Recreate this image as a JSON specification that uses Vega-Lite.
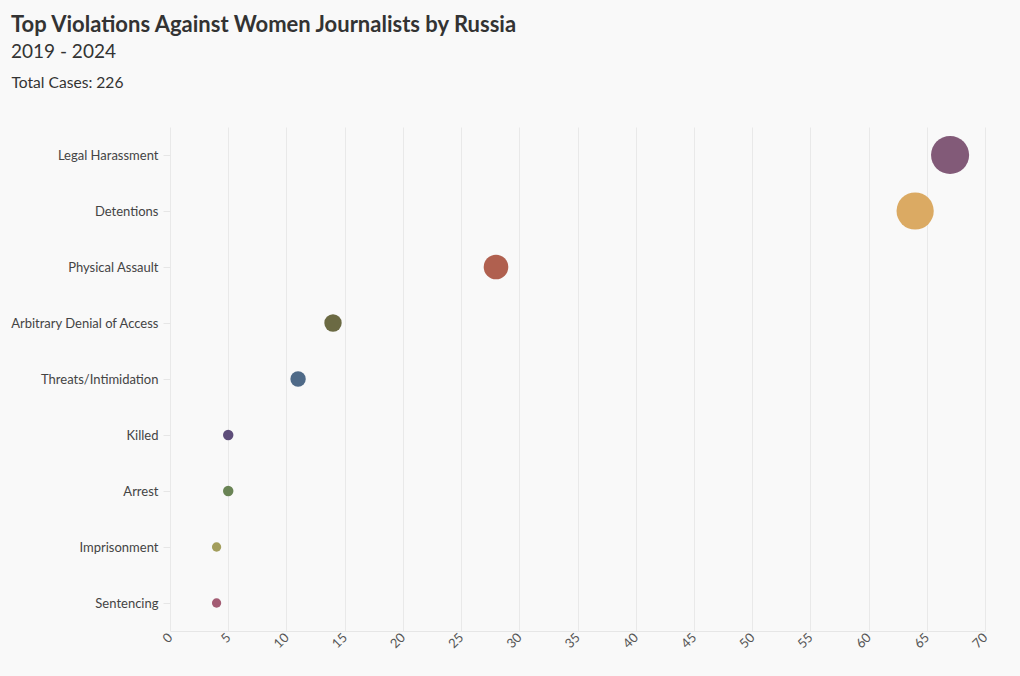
{
  "$schema": "https://vega.github.io/schema/vega-lite/v6.json",
  "autosize": {"type": "none"},
  "width": 815,
  "height": 504,
  "padding": {"left": 170, "top": 127, "right": 35, "bottom": 45},
  "background": "#f9f9f9",
  "title": {
    "text": "Top Violations Against Women Journalists by Russia",
    "subtitle": "2019 - 2024",
    "anchor": "start",
    "frame": "group",
    "dx": -159,
    "offset": 12,
    "font": "Lato",
    "fontSize": 22,
    "fontWeight": "bold",
    "color": "#333333",
    "subtitleFont": "Lato",
    "subtitleFontSize": 19,
    "subtitleColor": "#333333",
    "subtitlePadding": 6
  },
  "data": {
    "values": [
      {"violation": "Legal Harassment", "cases": 67},
      {"violation": "Detentions", "cases": 64},
      {"violation": "Physical Assault", "cases": 28},
      {"violation": "Arbitrary Denial of Access", "cases": 14},
      {"violation": "Threats/Intimidation", "cases": 11},
      {"violation": "Killed", "cases": 5},
      {"violation": "Arrest", "cases": 5},
      {"violation": "Imprisonment", "cases": 4},
      {"violation": "Sentencing", "cases": 4}
    ]
  },
  "mark": {"type": "circle", "opacity": 1},
  "encoding": {
    "y": {
      "field": "violation",
      "type": "nominal",
      "sort": null,
      "scale": {"paddingInner": 0, "paddingOuter": 0},
      "axis": {
        "title": "Total Cases: 226",
        "titleAngle": 0,
        "titleAlign": "left",
        "titleBaseline": "alphabetic",
        "titleX": -159,
        "titleY": -40,
        "titleFont": "Lato",
        "titleFontSize": 15.6,
        "titleFontWeight": "normal",
        "titleColor": "#333333",
        "labelFont": "Lato",
        "labelFontSize": 13,
        "labelColor": "#444444",
        "labelPadding": 5,
        "tickColor": "#e6e6e6",
        "tickSize": 7,
        "domain": false,
        "grid": false
      }
    },
    "x": {
      "field": "cases",
      "type": "quantitative",
      "scale": {"domain": [0, 70], "nice": false},
      "axis": {
        "title": null,
        "values": [0, 5, 10, 15, 20, 25, 30, 35, 40, 45, 50, 55, 60, 65, 70],
        "labelAngle": -45,
        "labelAlign": "right",
        "labelBaseline": "middle",
        "labelFont": "Lato",
        "labelFontSize": 13,
        "labelColor": "#555555",
        "labelPadding": 4,
        "ticks": false,
        "domainColor": "#e6e6e6",
        "gridColor": "#e9e9e9",
        "grid": true
      }
    },
    "size": {
      "field": "cases",
      "type": "quantitative",
      "scale": {"domain": [0, 67], "range": [0, 1450], "zero": true},
      "legend": null
    },
    "color": {
      "field": "violation",
      "type": "nominal",
      "scale": {
        "domain": ["Legal Harassment", "Detentions", "Physical Assault", "Arbitrary Denial of Access", "Threats/Intimidation", "Killed", "Arrest", "Imprisonment", "Sentencing"],
        "range": ["#825a78", "#dbaa63", "#b0604f", "#6b6a43", "#4f6a88", "#5e4e7a", "#6a8455", "#a39e5c", "#a35c73"]
      },
      "legend": null
    }
  },
  "config": {"view": {"stroke": null}}
}
